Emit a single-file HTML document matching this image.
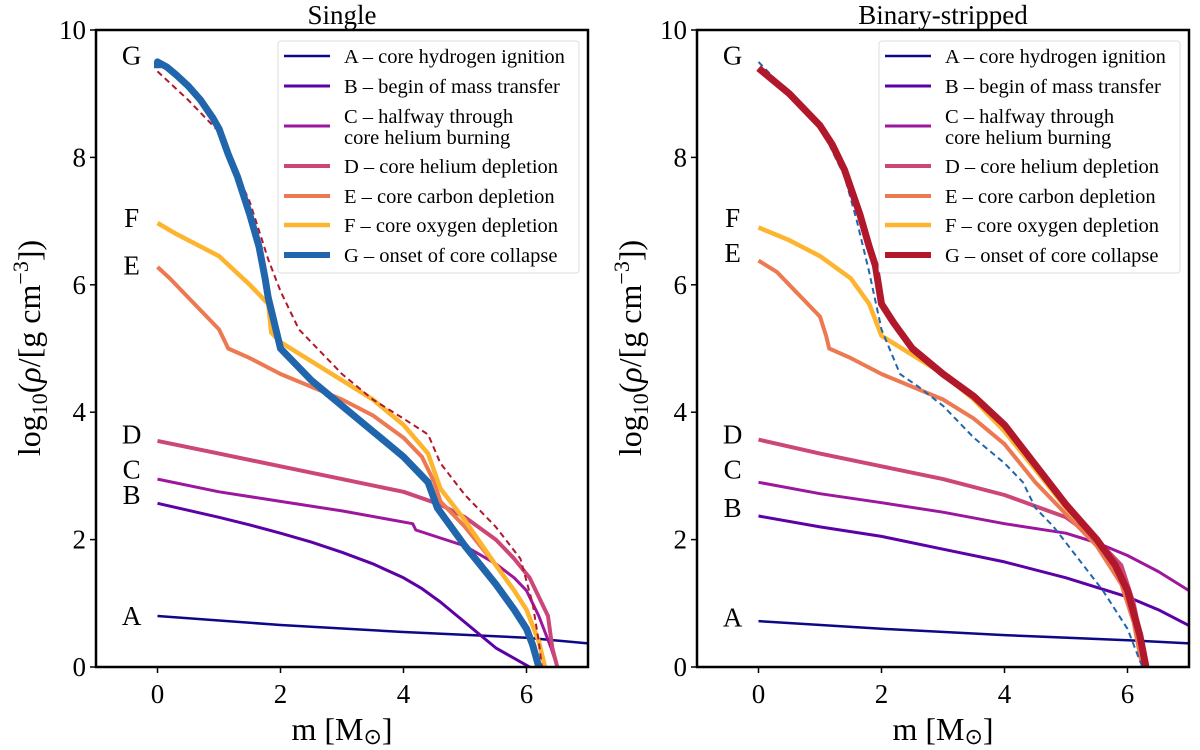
<!DOCTYPE html>
<html><head><meta charset="utf-8"><style>
body{margin:0;background:#fff;}
svg{display:block;font-family:"Liberation Serif",serif;}
</style></head><body>
<svg id="chart" width="1200" height="750" viewBox="0 0 1200 750" xmlns="http://www.w3.org/2000/svg"></svg>
<script>
const xTicks=[0,2,4,6];
const yTicks=[0,2,4,6,8,10];
const seriesNames=["A – core hydrogen ignition","B – begin of mass transfer","C – halfway through|core helium burning","D – core helium depletion","E – core carbon depletion","F – core oxygen depletion","G – onset of core collapse"];
const letters=["A","B","C","D","E","F","G"];
const colors=["#0d0887","#5c01a6","#9c179e","#cc4778","#ed7953","#fdb42f","#2166ac"];
const widths=[2.5,3,3,4,4,4.5,7];
// Single panel data
const sA=[[0,0.8],[2,0.66],[4,0.55],[6,0.46],[7,0.37]];
const sB=[[0,2.57],[0.5,2.46],[1,2.35],[1.5,2.23],[2,2.1],[2.5,1.96],[3,1.8],[3.5,1.62],[4,1.4],[4.3,1.23],[4.6,1.02],[5,0.7],[5.5,0.3],[6.05,0]];
const sC=[[0,2.95],[1,2.75],[2,2.6],[3,2.45],[4.15,2.25],[4.2,2.15],[5,1.9],[5.5,1.62],[5.8,1.4],[6.0,1.2],[6.2,0.8],[6.4,0.3],[6.5,0]];
const sD=[[0,3.55],[1,3.35],[2,3.15],[3,2.95],[4,2.75],[4.6,2.55],[5,2.35],[5.5,2.0],[5.8,1.7],[6.05,1.4],[6.2,1.1],[6.35,0.8],[6.42,0.3],[6.5,0]];
const sE=[[0,6.28],[0.2,6.1],[0.6,5.7],[1.0,5.3],[1.1,5.1],[1.15,5.0],[1.5,4.85],[2,4.6],[3,4.2],[3.5,3.95],[4,3.6],[4.3,3.3],[4.5,2.9],[4.6,2.6],[5,2.2],[5.5,1.6],[5.8,1.2],[6,0.9],[6.2,0.4],[6.3,0]];
const sF=[[0,6.97],[0.3,6.8],[1,6.45],[1.5,6.0],[1.8,5.7],[1.85,5.25],[2,5.1],[3,4.5],[3.5,4.2],[4,3.8],[4.4,3.35],[4.6,2.8],[5,2.3],[5.5,1.6],[5.8,1.2],[6,0.9],[6.2,0.4],[6.3,0]];
const sG=[[0,9.4],[0,9.5],[0.15,9.42],[0.3,9.3],[0.5,9.12],[0.7,8.9],[0.9,8.62],[1.0,8.45],[1.15,8.05],[1.3,7.7],[1.5,7.1],[1.65,6.6],[1.75,6.1],[1.8,5.8],[1.85,5.6],[2,5.0],[2.5,4.5],[3,4.1],[3.5,3.7],[4,3.3],[4.4,2.9],[4.55,2.5],[5,1.9],[5.5,1.3],[5.8,0.9],[6,0.6],[6.1,0.35],[6.2,0]];
const sGref=[[0,9.35],[0.5,8.9],[1,8.4],[1.2,7.95],[1.5,7.3],[1.8,6.4],[2.0,5.9],[2.3,5.3],[3,4.6],[3.5,4.2],[4,3.9],[4.4,3.65],[4.6,3.2],[5,2.7],[5.5,2.2],[5.9,1.7],[6.1,1.0],[6.2,0.4],[6.25,0]];
// Binary-stripped panel data
const bA=[[0,0.72],[2,0.6],[4,0.5],[6,0.42],[7,0.37]];
const bB=[[0,2.37],[1,2.2],[2,2.05],[3,1.85],[4,1.65],[5,1.4],[6,1.1],[6.5,0.9],[7,0.65]];
const bC=[[0,2.9],[1,2.72],[2,2.58],[3,2.43],[4,2.25],[5,2.1],[5.5,1.95],[6,1.75],[6.5,1.5],[7,1.2]];
const bD=[[0,3.57],[1,3.35],[2,3.15],[3,2.95],[4,2.7],[5,2.35],[5.5,2.0],[5.9,1.6],[6.1,1.0],[6.25,0.3],[6.28,0]];
const bE=[[0,6.38],[0.3,6.2],[0.6,5.9],[1.0,5.5],[1.1,5.2],[1.15,5.0],[1.5,4.85],[2,4.6],[3,4.2],[3.5,3.9],[4,3.5],[4.5,2.9],[5,2.4],[5.5,1.9],[5.9,1.3],[6.1,0.7],[6.2,0.2],[6.25,0]];
const bF=[[0,6.9],[0.5,6.7],[1,6.45],[1.5,6.1],[1.8,5.7],[2,5.2],[3,4.6],[3.5,4.2],[4,3.7],[4.5,3.1],[5,2.5],[5.5,2.0],[5.8,1.6],[6,1.2],[6.2,0.5],[6.3,0]];
const bG=[[0,9.4],[0.5,9.0],[1,8.5],[1.2,8.2],[1.4,7.8],[1.65,7.1],[1.8,6.6],[1.9,6.3],[2,5.7],[2.2,5.4],[2.5,5.0],[3,4.6],[3.5,4.25],[4,3.8],[4.4,3.3],[4.8,2.8],[5,2.55],[5.5,2.0],[5.8,1.6],[6,1.2],[6.2,0.5],[6.3,0]];
const bGref=[[0,9.5],[0.5,9.0],[1,8.5],[1.4,7.7],[1.6,7.0],[1.8,6.2],[2,5.3],[2.3,4.6],[2.6,4.4],[3,4.1],[3.5,3.6],[4,3.2],[4.3,2.9],[4.5,2.5],[4.8,2.2],[5.2,1.7],[5.6,1.2],[6,0.6],[6.2,0.1],[6.25,0]];
const singleLabelY=[0.8,2.7,3.1,3.65,6.3,7.05,9.6];
const binaryLabelY=[0.78,2.5,3.1,3.65,6.5,7.05,9.6];

const svg=document.getElementById('chart');
const NS="http://www.w3.org/2000/svg";
function mk(tag,attrs,parent){const e=document.createElementNS(NS,tag);for(const k in attrs)e.setAttribute(k,attrs[k]);(parent||svg).appendChild(e);return e;}

function panel(off,title,series,refSeries,gColor,refColor,labelY,key){
  const X0=96+off,X1=588+off,Y0=30,Y1=667;
  const xs=v=>X0+(v+1)/8*(X1-X0);
  const ys=v=>Y1-v/10*(Y1-Y0);
  const g=mk('g',{});
  
  
  const defs=mk('clipPath',{id:'clip'+key},g);
  mk('rect',{x:X0,y:Y0,width:X1-X0,height:Y1-Y0},defs);
  const t=mk('text',{x:(X0+X1)/2,y:24,'text-anchor':'middle','font-size':27},g);
  t.textContent=title;
  
  
  const cols=colors.slice();cols[6]=gColor;
  const plot=mk('g',{'clip-path':'url(#clip'+key+')'},g);
  const path=(pts,c,w,dash,name)=>{
    const p=mk('path',{d:pts.map((q,i)=>(i?'L':'M')+xs(q[0]).toFixed(1)+','+ys(q[1]).toFixed(1)).join(''),fill:'none',stroke:c,'stroke-width':w,'stroke-linejoin':'round','stroke-dasharray':dash||'none'},plot);
    
    
  };
  series.forEach((s,i)=>{
    path(s,cols[i],widths[i],null,key+'-curve-'+letters[i].toLowerCase());
    if(i===5) path(refSeries,refColor,2,'6,4',key+'-reference-curve-g');
  });
  labelY.forEach((v,i)=>{
    const l=mk('text',{x:xs(-0.42),y:ys(v)+9,'text-anchor':'middle','font-size':27},g);
    l.textContent=letters[i];
    
    
  });
  mk('rect',{x:X0,y:Y0,width:X1-X0,height:Y1-Y0,fill:'none',stroke:'#000','stroke-width':2.5},g);
  xTicks.forEach(v=>{
    mk('line',{x1:xs(v),x2:xs(v),y1:Y1,y2:Y1+6,stroke:'#000','stroke-width':1.5},g);
    const l=mk('text',{x:xs(v),y:Y1+36,'text-anchor':'middle','font-size':27},g);
    l.textContent=v;
    
    
  });
  yTicks.forEach(v=>{
    mk('line',{x1:X0-6,x2:X0,y1:ys(v),y2:ys(v),stroke:'#000','stroke-width':1.5},g);
    const l=mk('text',{x:X0-10,y:ys(v)+9,'text-anchor':'end','font-size':27},g);
    l.textContent=v;
    
    
  });
  const xl=mk('text',{x:(X0+X1)/2,y:740,'text-anchor':'middle','font-size':32},g);
  xl.innerHTML='m [M<tspan font-size="22" dy="4">⊙</tspan><tspan dy="-4">]</tspan>';
  
  
  const yl=mk('text',{x:0,y:0,'text-anchor':'middle','font-size':32,transform:'translate('+(off+40)+',348) rotate(-90)'},g);
  yl.innerHTML='log<tspan font-size="22" dy="7">10</tspan><tspan dy="-7">(</tspan><tspan font-style="italic">ρ</tspan>/[g cm<tspan font-size="22" dy="-12">−3</tspan><tspan dy="12">])</tspan>';
  
  
  const lg=mk('g',{},g);
  
  
  mk('rect',{x:278+off,y:41,width:301,height:232,rx:3,fill:'#fff',stroke:'#ddd','stroke-width':1},lg);
  const rowY=[56,86,126,166,196,225,255];
  seriesNames.forEach((n,i)=>{
    const e=mk('g',{},lg);
    
    
    mk('line',{x1:284+off,x2:330+off,y1:rowY[i],y2:rowY[i],stroke:cols[i],'stroke-width':Math.min(widths[i],6)},e);
    const parts=n.split('|');
    parts.forEach((p,j)=>{
      const tx=mk('text',{x:344+off,y:rowY[i]+7+(parts.length>1?(j?11:-10):0),'font-size':20.5},e);
      tx.textContent=p;
    });
  });
}
panel(0,'Single',[sA,sB,sC,sD,sE,sF,sG],sGref,'#2166ac','#b2182b',singleLabelY,'single');
panel(601,'Binary-stripped',[bA,bB,bC,bD,bE,bF,bG],bGref,'#b2182b','#2166ac',binaryLabelY,'binary');
</script>
</body></html>
